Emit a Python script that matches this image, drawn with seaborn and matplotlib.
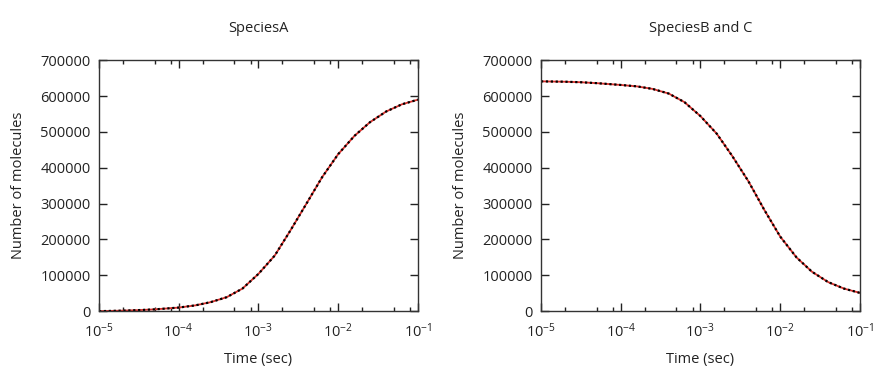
import matplotlib
matplotlib.use("Agg")
import matplotlib.pyplot as plt
import matplotlib.ticker as mticker
import seaborn as sns
import pandas as pd

# time points (sec)
time_sec = [1.0e-5, 2.0e-5, 3.2e-5, 5.0e-5, 1.0e-4, 1.6e-4, 2.5e-4, 4.0e-4, 6.3e-4, 1.0e-3,
            1.6e-3, 2.5e-3, 4.0e-3, 6.3e-3, 1.0e-2, 1.6e-2, 2.5e-2, 4.0e-2, 6.3e-2, 1.0e-1]

# Species A (rising)
species_a = [0, 1500, 3000, 5000, 10000, 16000, 25000, 39000, 63000, 104000,
             155000, 224000, 300000, 374000, 438000, 489000, 527000, 557000, 577000, 590000]

# Species B and C (falling)
species_bc = [641000, 640000, 638500, 636000, 631000, 627000, 620000, 607000, 583000, 544000,
              495000, 433000, 362000, 283000, 208000, 150000, 110000, 81000, 63000, 51000]

titles = ["SpeciesA", "SpeciesB and C"]
y_ticks = [0, 100000, 200000, 300000, 400000, 500000, 600000, 700000]
x_ticks = [1e-5, 1e-4, 1e-3, 1e-2, 1e-1]
x_tick_labels = ["10$^{-5}$", "10$^{-4}$", "10$^{-3}$", "10$^{-2}$", "10$^{-1}$"]

sns.set_style("ticks")
plt.rcParams["font.family"] = ["Open Sans", "DejaVu Sans"]
plt.rcParams["mathtext.fontset"] = "custom"
plt.rcParams["mathtext.rm"] = "Open Sans"
plt.rcParams["mathtext.default"] = "regular"

fig = plt.figure(figsize=(8.86, 3.74), dpi=100)
ax1 = fig.add_axes([0.1117, 0.168, 0.36, 0.671])
ax2 = fig.add_axes([0.6106, 0.168, 0.36, 0.671])

for ax, vals, title in zip([ax1, ax2], [species_a, species_bc], titles):
    df = pd.DataFrame({"time": time_sec, "n": vals})
    # red line with a black dotted line on top
    sns.lineplot(data=df, x="time", y="n", ax=ax, color="#d9302c", linewidth=1.3)
    sns.lineplot(data=df, x="time", y="n", ax=ax, color="black", linewidth=1.6,
                 linestyle=(0, (1, 1.2)))
    ax.set_xscale("log")
    ax.set_xlim(1e-5, 1e-1)
    ax.set_ylim(0, 700000)
    ax.set_xticks(x_ticks)
    ax.set_xticklabels(x_tick_labels)
    ax.xaxis.set_minor_locator(mticker.LogLocator(base=10, subs=[2, 5, 8]))
    ax.xaxis.set_minor_formatter(mticker.NullFormatter())
    ax.set_yticks(y_ticks)
    ax.set_yticklabels([str(v) for v in y_ticks])
    ax.tick_params(which="both", direction="in", top=True, right=True,
                   labelsize=10.5, colors="#222222")
    ax.tick_params(axis="x", which="major", pad=8)
    ax.tick_params(axis="y", which="major", pad=6)
    ax.tick_params(which="major", length=6, width=1)
    ax.tick_params(which="minor", length=3, width=1)
    for sp in ax.spines.values():
        sp.set_color("#333333")
        sp.set_linewidth(1)
    ax.set_title(title, fontsize=10.5, pad=20, color="#222222")
    ax.set_xlabel("Time (sec)", fontsize=10.5, color="#222222", labelpad=8)
    ax.set_ylabel("Number of molecules", fontsize=10.5, color="#222222", labelpad=10)

fig.savefig("out.png", dpi=100)
